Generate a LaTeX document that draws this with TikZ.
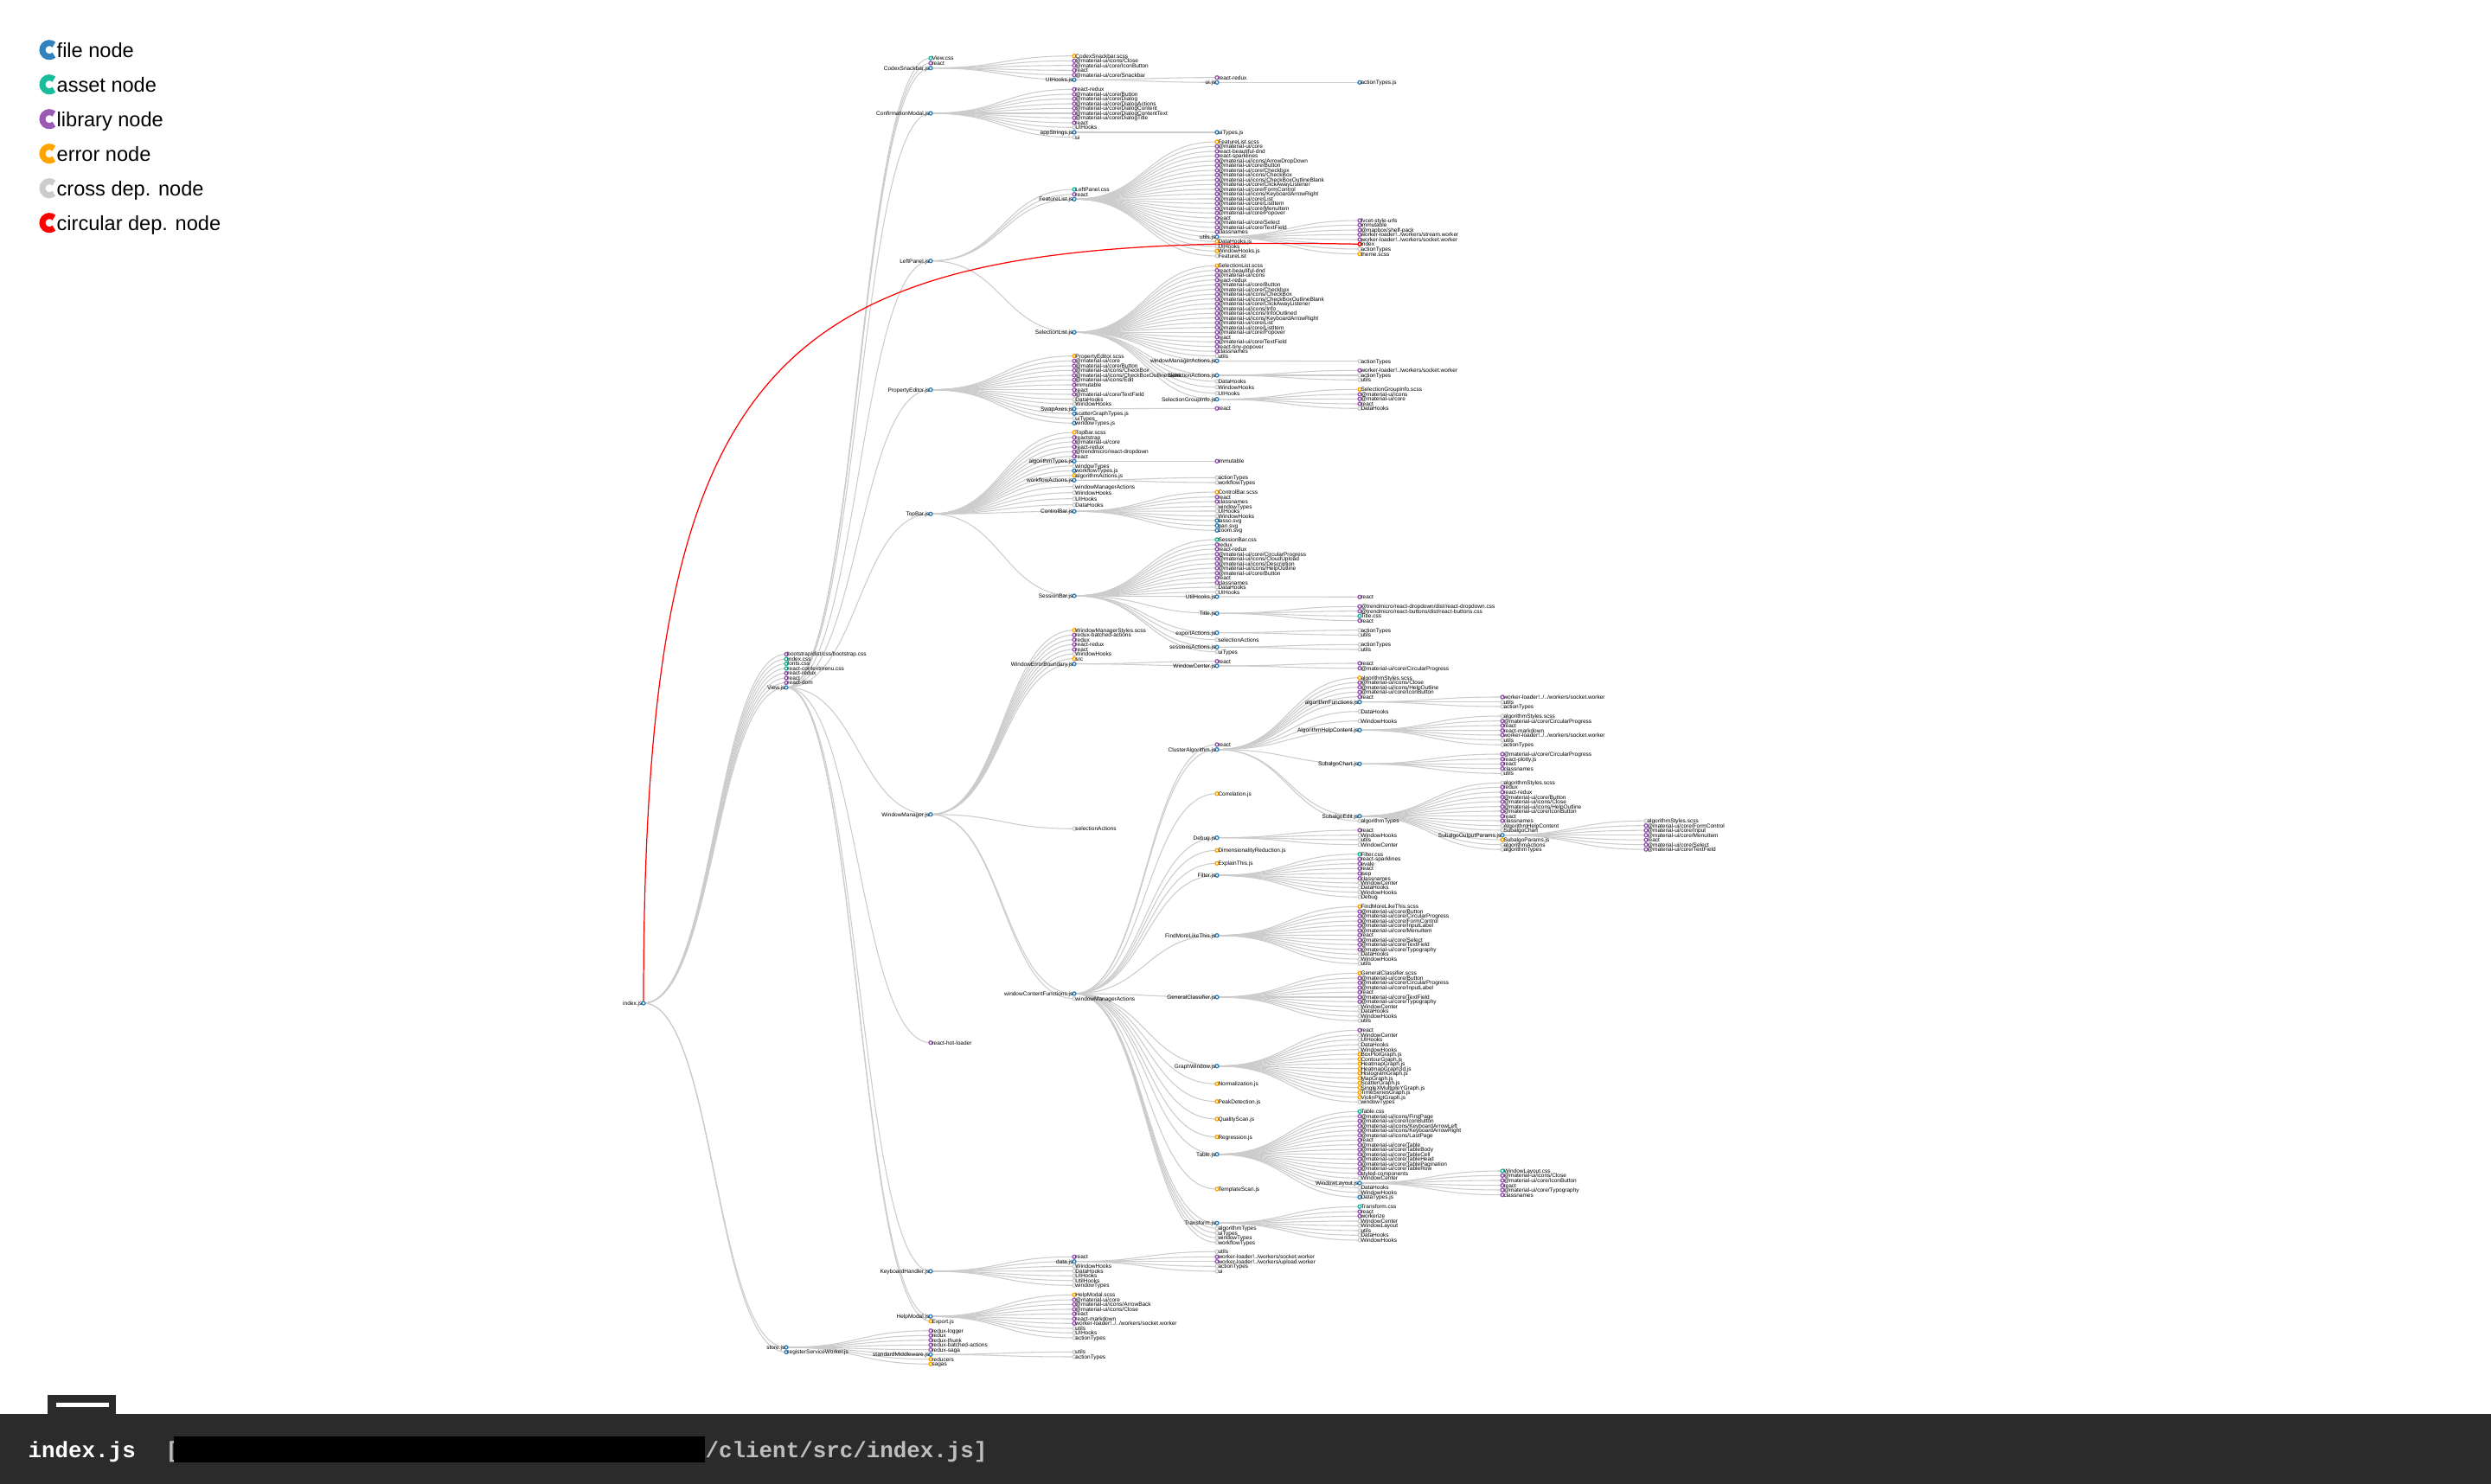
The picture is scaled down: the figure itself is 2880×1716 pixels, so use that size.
\documentclass[tikz,border=0pt]{standalone}
\usepackage{fontspec}
\setmainfont{Liberation Sans}
\setmonofont{Liberation Mono}
\usetikzlibrary{calc}

\definecolor{cfile}{RGB}{49,130,189}
\definecolor{casset}{RGB}{26,188,156}
\definecolor{clib}{RGB}{155,89,182}
\definecolor{cerr}{RGB}{255,165,0}
\definecolor{ccross}{RGB}{204,204,204}
\definecolor{ccirc}{RGB}{255,0,0}
\definecolor{linkgray}{RGB}{204,204,204}
\definecolor{barbg}{RGB}{43,43,43}
\definecolor{pathgray}{RGB}{190,190,190}

% pass 1: points and links (parent, column x, list of y/kind/name)
\newcommand{\depslinks}[3]{%
  \foreach \ny/\nk/\nt [count=\cnt] in {#3} {
    \coordinate (#1-\cnt) at (#2,\ny);
    \draw[link] (#1) to (#1-\cnt);
  }}
\newcommand{\hublinks}[5]{%
  \coordinate (#2) at (#3,#4);
  \draw[link] (#1) to (#2);}
% pass 2: circles and names on top
\newcommand{\depsnodes}[3]{%
  \foreach \ny/\nk/\nt [count=\cnt] in {#3} {
    \node[dot, draw=c\nk, lf=\nt] (#1-\cnt) at (#2,\ny) {};
  }}
\newcommand{\hubnodes}[5]{%
  \node[dot, draw=cfile, hb={#5}] (#2) at (#3,#4) {};}

% the dependency tree: \hub{parent}{name}{x}{y}{label}, \deps{parent}{x}{y/kind/label,...}
\newcommand{\deptree}{%
% --- LEVEL 1: index.js ---
\deps{index}{909}{756.5/lib/{bootstrap/dist/css/bootstrap.css}, 762/asset/{index.css},
  767.5/asset/{fonts.css}, 773/asset/{react-contextmenu.css}, 778.5/lib/{react-redux},
  784/lib/{react}, 789.5/lib/{react-dom}, 1563.5/file/{registerServiceWorker.js}}
\hub{index}{view}{909}{795}{View.js}
\hub{index}{store}{909}{1558}{store.js}
% --- LEVEL 2: View.js ---
\deps{view}{1076}{67.3/asset/{View.css}, 73/lib/{react}, 1205.7/lib/{react-hot-loader},
  1527.7/err/{Export.js}}
\hub{view}{codex}{1076}{78.7}{CodexSnackbar.js}
\hub{view}{confirm}{1076}{131}{ConfirmationModal.js}
\hub{view}{leftpanel}{1076}{301.7}{LeftPanel.js}
\hub{view}{propedit}{1076}{450.7}{PropertyEditor.js}
\hub{view}{topbar}{1076}{594.3}{TopBar.js}
\hub{view}{winmgr}{1076}{941.7}{WindowManager.js}
\hub{view}{keyboard}{1076}{1470}{KeyboardHandler.js}
\hub{view}{helpmodal}{1076}{1522.3}{HelpModal.js}
% --- CodexSnackbar.js ---
\deps{codex}{1242}{64.7/err/{CodexSnackbar.scss}, 70.3/lib/{@material-ui/icons/Close},
  75.7/lib/{@material-ui/core/IconButton}, 81.3/lib/{react}, 86.7/lib/{@material-ui/core/Snackbar}}
\hub{codex}{uihooks}{1242}{92.3}{UIHooks.js}
\deps{uihooks}{1407}{89.7/lib/{react-redux}}
\hub{uihooks}{uijs}{1407}{95.3}{ui.js}
\deps{uijs}{1572}{95.3/file/{actionTypes.js}}
% --- ConfirmationModal.js ---
\deps{confirm}{1242}{103.3/lib/{react-redux}, 109/lib/{@material-ui/core/Button},
  114.3/lib/{@material-ui/core/Dialog}, 120/lib/{@material-ui/core/DialogActions},
  125.3/lib/{@material-ui/core/DialogContent}, 131/lib/{@material-ui/core/DialogContentText},
  136.3/lib/{@material-ui/core/DialogTitle}, 142/lib/{react}, 147.3/cross/{UIHooks},
  158.7/cross/{ui}}
\hub{confirm}{appstr}{1242}{153}{appStrings.js}
\deps{appstr}{1407}{153/file/{uiTypes.js}}
% --- LeftPanel.js ---
\deps{leftpanel}{1242}{219/asset/{LeftPanel.css}, 224.7/lib/{react}}
\hub{leftpanel}{featlist}{1242}{230.3}{FeatureList.js}
\hub{leftpanel}{sellist}{1242}{384.3}{SelectionList.js}
\deps{featlist}{1407}{164/err/{FeatureList.scss}, 169.3/lib/{@material-ui/core},
  175/lib/{react-beautiful-dnd}, 180.3/lib/{react-sparklines}, 186/lib/{@material-ui/icons/ArrowDropDown},
  191.3/lib/{@material-ui/core/Button}, 197/lib/{@material-ui/core/Checkbox},
  202.3/lib/{@material-ui/icons/CheckBox}, 208/lib/{@material-ui/icons/CheckBoxOutlineBlank},
  213.3/lib/{@material-ui/core/ClickAwayListener}, 219/lib/{@material-ui/core/FormControl},
  224.3/lib/{@material-ui/icons/KeyboardArrowRight}, 230/lib/{@material-ui/core/List},
  235.3/lib/{@material-ui/core/ListItem}, 241/lib/{@material-ui/core/MenuItem},
  246.3/lib/{@material-ui/core/Popover}, 252/lib/{react}, 257.3/lib/{@material-ui/core/Select},
  263/lib/{@material-ui/core/TextField}, 268.3/lib/{classnames}, 279.3/err/{DataHooks.js},
  285/cross/{UIHooks}, 290.3/err/{WindowHooks.js}, 296/cross/{FeatureList}}
\hub{featlist}{utils}{1407}{274}{utils.js}
\deps{utils}{1572}{255/lib/{fvcet-style-urls}, 260.3/lib/{immutable}, 266/lib/{@mapbox/shelf-pack},
  271.3/lib/{worker-loader!../workers/stream.worker}, 277/lib/{worker-loader!../workers/socket.worker},
  282.3/circ/{index}, 288/cross/{actionTypes}, 293.7/err/{theme.scss}}
\deps{sellist}{1407}{307.3/err/{SelectionList.scss}, 312.7/lib/{react-beautiful-dnd},
  318.3/lib/{@material-ui/icons}, 323.7/lib/{react-redux}, 329.3/lib/{@material-ui/core/Button},
  334.7/lib/{@material-ui/core/Checkbox}, 340.3/lib/{@material-ui/icons/CheckBox},
  345.7/lib/{@material-ui/icons/CheckBoxOutlineBlank}, 351.3/lib/{@material-ui/core/ClickAwayListener},
  356.7/lib/{@material-ui/icons/Info}, 362.3/lib/{@material-ui/icons/InfoOutlined},
  367.7/lib/{@material-ui/icons/KeyboardArrowRight}, 373.3/lib/{@material-ui/core/List},
  378.7/lib/{@material-ui/core/ListItem}, 384.3/lib/{@material-ui/core/Popover}, 389.7/lib/{react},
  395.3/lib/{@material-ui/core/TextField}, 400.7/lib/{react-tiny-popover}, 406.3/lib/{classnames},
  411.7/cross/{utils}, 441/cross/{DataHooks}, 447.7/cross/{WindowHooks}, 454.7/cross/{UIHooks}}
\hub{sellist}{wmactions}{1407}{417.3}{windowManagerActions.js}
\hub{sellist}{selactions}{1407}{434}{selectionActions.js}
\hub{sellist}{selgroup}{1407}{461.7}{SelectionGroupInfo.js}
\deps{wmactions}{1572}{417.7/cross/{actionTypes}}
\deps{selactions}{1572}{428.3/lib/{worker-loader!../workers/socket.worker}, 434/cross/{actionTypes},
  439.3/cross/{utils}}
\deps{selgroup}{1572}{450.3/err/{SelectionGroupInfo.scss}, 456/lib/{@material-ui/icons},
  461.3/lib/{@material-ui/core}, 467/lib/{react}, 472.3/cross/{DataHooks}}
% --- PropertyEditor.js ---
\deps{propedit}{1242}{411.7/err/{PropertyEditor.scss}, 417.3/lib/{@material-ui/core},
  423/lib/{@material-ui/core/Button}, 428.3/lib/{@material-ui/icons/CheckBox},
  434/lib/{@material-ui/icons/CheckBoxOutlineBlank}, 439.3/lib/{@material-ui/icons/Edit},
  445/lib/{immutable}, 450.7/lib/{react}, 456/lib/{@material-ui/core/TextField},
  461.7/cross/{DataHooks}, 467/cross/{WindowHooks}, 478.3/file/{scatterGraphTypes.js},
  483.7/cross/{uiTypes}, 489.3/file/{windowTypes.js}}
\hub{propedit}{swapaxes}{1242}{472.7}{SwapAxes.js}
\deps{swapaxes}{1407}{472.3/lib/{react}}
% --- TopBar.js ---
\deps{topbar}{1242}{500/err/{TopBar.scss}, 505.7/lib/{reactstrap}, 511/lib/{@material-ui/core},
  516.7/lib/{react-redux}, 522.3/lib/{@trendmicro/react-dropdown}, 527.7/lib/{react},
  538.7/cross/{windowTypes}, 544.3/file/{workflowTypes.js}, 549.7/err/{algorithmActions.js},
  562.7/cross/{windowManagerActions}, 569.7/cross/{WindowHooks}, 576.7/cross/{UIHooks},
  583.7/cross/{DataHooks}}
\hub{topbar}{algotypes}{1242}{533.3}{algorithmTypes.js}
\hub{topbar}{wfactions}{1242}{555.3}{workflowActions.js}
\hub{topbar}{controlbar}{1242}{591.3}{ControlBar.js}
\hub{topbar}{sessionbar}{1242}{689}{SessionBar.js}
\deps{algotypes}{1407}{533.3/lib/{immutable}}
\deps{wfactions}{1407}{552.3/cross/{actionTypes}, 558/cross/{workflowTypes}}
\deps{controlbar}{1407}{569/err/{ControlBar.scss}, 574.7/lib/{react}, 580/lib/{classnames},
  585.7/cross/{windowTypes}, 591/cross/{UIHooks}, 596.7/cross/{WindowHooks}, 602/file/{lasso.svg},
  607.7/file/{pan.svg}, 613.3/file/{zoom.svg}}
\deps{sessionbar}{1407}{624/asset/{SessionBar.css}, 629.7/lib/{redux}, 635/lib/{react-redux},
  640.7/lib/{@material-ui/core/CircularProgress}, 646/lib/{@material-ui/icons/CloudUpload},
  651.7/lib/{@material-ui/icons/Description}, 657/lib/{@material-ui/icons/HelpOutline},
  662.7/lib/{@material-ui/core/Button}, 668/lib/{react}, 673.7/lib/{classnames},
  679/cross/{DataHooks}, 684.7/cross/{UIHooks}, 739.7/cross/{selectionActions}, 753.7/cross/{uiTypes}}
\hub{sessionbar}{utilhooks}{1407}{690}{UtilHooks.js}
\hub{sessionbar}{title}{1407}{709.3}{Title.js}
\hub{sessionbar}{expactions}{1407}{731.7}{exportActions.js}
\hub{sessionbar}{sessactions}{1407}{748.3}{sessionsActions.js}
\deps{utilhooks}{1572}{690.3/lib/{react}}
\deps{title}{1572}{701.3/lib/{@trendmicro/react-dropdown/dist/react-dropdown.css},
  706.7/lib/{@trendmicro/react-buttons/dist/react-buttons.css}, 712.3/asset/{Title.css},
  717.7/lib/{react}}
\deps{expactions}{1572}{728.7/cross/{actionTypes}, 734.3/cross/{utils}}
\deps{sessactions}{1572}{745.3/cross/{actionTypes}, 751/cross/{utils}}
% --- WindowManager.js ---
\deps{winmgr}{1242}{728.7/err/{WindowManagerStyles.scss}, 734.3/lib/{redux-batched-actions},
  739.7/lib/{redux}, 745.3/lib/{react-redux}, 751/lib/{react}, 756.3/cross/{WindowHooks},
  761.7/err/{src}, 958.3/cross/{selectionActions}, 1154.7/cross/{windowManagerActions}}
\hub{winmgr}{errbound}{1242}{767.7}{WindowErrorBoundary.js}
\hub{winmgr}{wcfuncs}{1242}{1149}{windowContentFunctions.js}
\deps{errbound}{1407}{764.7/lib/{react}}
\hub{errbound}{wincenter}{1407}{770}{WindowCenter.js}
\deps{wincenter}{1572}{767/lib/{react}, 772.7/lib/{@material-ui/core/CircularProgress}}
% --- windowContentFunctions.js ---
\deps{wcfuncs}{1407}{861/lib/{react}, 917.7/err/{Correlation.js}, 983.3/err/{DimensionalityReduction.js},
  998.3/err/{ExplainThis.js}, 1253.3/err/{Normalization.js}, 1273.7/err/{PeakDetection.js},
  1294/err/{QualityScan.js}, 1314.7/err/{Regression.js}, 1375/err/{TemplateScan.js},
  1420.3/cross/{algorithmTypes}, 1425.7/cross/{uiTypes}, 1431.3/cross/{windowTypes},
  1436.7/cross/{workflowTypes}}
\hub{wcfuncs}{cluster}{1407}{866.7}{ClusterAlgorithm.js}
\hub{wcfuncs}{debug}{1407}{968.7}{Debug.js}
\hub{wcfuncs}{filter}{1407}{1012.3}{Filter.js}
\hub{wcfuncs}{findmore}{1407}{1081.7}{FindMoreLikeThis.js}
\hub{wcfuncs}{genclass}{1407}{1153}{GeneralClassifier.js}
\hub{wcfuncs}{graphwin}{1407}{1232.7}{GraphWindow.js}
\hub{wcfuncs}{table}{1407}{1334.7}{Table.js}
\hub{wcfuncs}{transform}{1407}{1414.3}{Transform.js}
% --- ClusterAlgorithm.js ---
\deps{cluster}{1572}{783.7/err/{algorithmStyles.scss}, 789.3/lib/{@material-ui/icons/Close},
  794.7/lib/{@material-ui/icons/HelpOutline}, 800.3/lib/{@material-ui/core/IconButton},
  805.7/lib/{react}, 822.7/cross/{DataHooks}, 833.7/cross/{WindowHooks}, 949.3/cross/{algorithmTypes}}
\hub{cluster}{algofuncs}{1572}{811.7}{algorithmFunctions.js}
\hub{cluster}{helpcontent}{1572}{844.3}{AlgorithmHelpContent.js}
\hub{cluster}{subchart}{1572}{883.3}{SubalgoChart.js}
\hub{cluster}{subedit}{1572}{943.7}{SubalgoEdit.js}
\deps{algofuncs}{1737}{806/lib/{worker-loader!../../workers/socket.worker}, 811.7/cross/{utils},
  817/cross/{actionTypes}}
\deps{helpcontent}{1737}{828/cross/{algorithmStyles.scss}, 833.7/lib/{@material-ui/core/CircularProgress},
  839/lib/{react}, 844.7/lib/{react-markdown}, 850/lib/{worker-loader!../../workers/socket.worker},
  855.7/cross/{utils}, 861.3/cross/{actionTypes}}
\deps{subchart}{1737}{872/lib/{@material-ui/core/CircularProgress}, 877.7/lib/{react-plotly.js},
  883.3/lib/{react}, 888.7/lib/{classnames}, 894.3/cross/{utils}}
\deps{subedit}{1737}{905.3/cross/{algorithmStyles.scss}, 910.3/lib/{redux}, 916/lib/{react-redux},
  921.7/lib/{@material-ui/core/Button}, 927/lib/{@material-ui/icons/Close},
  932.7/lib/{@material-ui/icons/HelpOutline}, 938/lib/{@material-ui/core/IconButton},
  943.7/lib/{react}, 949/lib/{classnames}, 954.7/cross/{AlgorithmHelpContent},
  960/cross/{SubalgoChart}, 971/err/{SubalgoParams.js}, 976.7/cross/{algorithmActions},
  982.3/cross/{algorithmTypes}}
\hub{subedit}{outparams}{1737}{965.7}{SubalgoOutputParams.js}
\deps{outparams}{1903}{949.2/cross/{algorithmStyles.scss}, 954.7/lib/{@material-ui/core/FormControl},
  960.2/lib/{@material-ui/core/Input}, 965.7/lib/{@material-ui/core/MenuItem}, 971.2/lib/{react},
  976.7/lib/{@material-ui/core/Select}, 982.2/lib/{@material-ui/core/TextField}}
% --- Debug.js, Filter.js ---
\deps{debug}{1572}{960/lib/{react}, 965.7/cross/{WindowHooks}, 971/cross/{utils},
  976.7/cross/{WindowCenter}}
\deps{filter}{1572}{987.7/asset/{Filter.css}, 993.3/lib/{react-sparklines}, 998.7/lib/{evale},
  1004.3/lib/{react}, 1010/lib/{jsep}, 1015.7/lib/{classnames}, 1021/cross/{WindowCenter},
  1026.3/cross/{DataHooks}, 1031.7/cross/{WindowHooks}, 1037.3/cross/{Debug}}
% --- FindMoreLikeThis.js, GeneralClassifier.js ---
\deps{findmore}{1572}{1048.3/err/{FindMoreLikeThis.scss}, 1054/lib/{@material-ui/core/Button},
  1059.3/lib/{@material-ui/core/CircularProgress}, 1065/lib/{@material-ui/core/FormControl},
  1070.3/lib/{@material-ui/core/InputLabel}, 1076/lib/{@material-ui/core/MenuItem},
  1081.3/lib/{react}, 1087/lib/{@material-ui/core/Select}, 1092.3/lib/{@material-ui/core/TextField},
  1098/lib/{@material-ui/core/Typography}, 1103.3/cross/{DataHooks}, 1109/cross/{WindowHooks},
  1114.3/cross/{utils}}
\deps{genclass}{1572}{1125.3/err/{GeneralClassifier.scss}, 1131/lib/{@material-ui/core/Button},
  1136.3/lib/{@material-ui/core/CircularProgress}, 1142/lib/{@material-ui/core/InputLabel},
  1147.3/lib/{react}, 1153/lib/{@material-ui/core/TextField}, 1158.3/lib/{@material-ui/core/Typography},
  1164/cross/{WindowCenter}, 1169.3/cross/{DataHooks}, 1175/cross/{WindowHooks}, 1180.3/cross/{utils}}
% --- GraphWindow.js ---
\deps{graphwin}{1572}{1191.3/lib/{react}, 1197/cross/{WindowCenter}, 1202.3/cross/{UIHooks},
  1208/cross/{DataHooks}, 1213.7/cross/{WindowHooks}, 1219/err/{BoxPlotGraph.js},
  1224.7/err/{ContourGraph.js}, 1230/err/{HeatmapGraph.js}, 1235.7/err/{HeatmapGraph3d.js},
  1241/err/{HistogramGraph.js}, 1246.7/err/{MapGraph.js}, 1252.3/err/{ScatterGraph.js},
  1257.7/err/{SingleXMultipleYGraph.js}, 1263.3/err/{TimeSeriesGraph.js},
  1268.7/err/{ViolinPlotGraph.js}, 1274.3/cross/{windowTypes}}
% --- Table.js ---
\deps{table}{1572}{1285.3/asset/{Table.css}, 1290.7/lib/{@material-ui/icons/FirstPage},
  1296.3/lib/{@material-ui/core/IconButton}, 1301.7/lib/{@material-ui/icons/KeyboardArrowLeft},
  1307.3/lib/{@material-ui/icons/KeyboardArrowRight}, 1312.7/lib/{@material-ui/icons/LastPage},
  1318.3/lib/{react}, 1323.7/lib/{@material-ui/core/Table}, 1329.3/lib/{@material-ui/core/TableBody},
  1334.7/lib/{@material-ui/core/TableCell}, 1340.3/lib/{@material-ui/core/TableHead},
  1345.7/lib/{@material-ui/core/TablePagination}, 1351.3/lib/{@material-ui/core/TableRow},
  1356.7/lib/{styled-components}, 1362.3/cross/{WindowCenter}, 1373.3/cross/{DataHooks},
  1378.7/cross/{WindowHooks}, 1384.3/file/{DataTypes.js}}
\hub{table}{winlayout}{1572}{1368}{WindowLayout.js}
\deps{winlayout}{1737}{1354/asset/{WindowLayout.css}, 1359.3/lib/{@material-ui/icons/Close},
  1365/lib/{@material-ui/core/IconButton}, 1370.7/lib/{react}, 1376/lib/{@material-ui/core/Typography},
  1381.7/lib/{classnames}}
% --- Transform.js ---
\deps{transform}{1572}{1395.3/asset/{Transform.css}, 1401/lib/{react}, 1406.3/lib/{workerize},
  1412/cross/{WindowCenter}, 1417.3/cross/{WindowLayout}, 1423/cross/{utils},
  1428.3/cross/{DataHooks}, 1434/cross/{WindowHooks}}
% --- KeyboardHandler.js, HelpModal.js ---
\deps{keyboard}{1242}{1453.3/lib/{react}, 1464.3/cross/{WindowHooks}, 1469.7/cross/{DataHooks},
  1475.3/cross/{UIHooks}, 1480.7/cross/{UtilHooks}, 1486.3/cross/{windowTypes}}
\hub{keyboard}{datajs}{1242}{1458.7}{data.js}
\deps{datajs}{1407}{1447.3/cross/{utils}, 1453.3/lib/{worker-loader!../workers/socket.worker},
  1458.7/lib/{worker-loader!../workers/upload.worker}, 1464.3/cross/{actionTypes}, 1470/cross/{ui}}
\deps{helpmodal}{1242}{1497.3/err/{HelpModal.scss}, 1503/lib/{@material-ui/core},
  1508.3/lib/{@material-ui/icons/ArrowBack}, 1514/lib/{@material-ui/icons/Close}, 1519.3/lib/{react},
  1525/lib/{react-markdown}, 1530.3/lib/{worker-loader!../../workers/socket.worker},
  1536/cross/{utils}, 1541.3/cross/{UIHooks}, 1547/cross/{actionTypes}}
% --- store.js ---
\deps{store}{1076}{1538.7/lib/{redux-logger}, 1544.3/lib/{redux}, 1549.7/lib/{redux-thunk},
  1555.3/lib/{redux-batched-actions}, 1560.7/lib/{redux-saga}, 1571.7/err/{reducers},
  1577.3/err/{sagas}}
\hub{store}{stdmw}{1076}{1566.3}{standardMiddleware.js}
\deps{stdmw}{1242}{1563.3/cross/{utils}, 1569/cross/{actionTypes}}
}

\begin{document}
\begin{tikzpicture}[
  x=0.01cm, y=-0.01cm,
  dot/.style={circle, fill=white, line width=0.37pt, inner sep=0pt, minimum size=0.04cm},
  lbl/.style={font=\fontsize{1.85}{2.2}\selectfont, inner sep=0pt, outer sep=0pt,
    text height=1.33pt, text depth=0pt},
  lf/.style={label={[lbl, label distance=-0.33pt]east:#1}},
  hb/.style={label={[lbl, label distance=-0.27pt]west:#1}},
  link/.style={draw=linkgray, line width=0.3pt,
    to path={let \p1=(\tikztostart), \p2=(\tikztotarget) in
      .. controls ({0.5*\x1+0.5*\x2},\y1) and ({0.5*\x1+0.5*\x2},\y2) .. (\tikztotarget)}},
  circlink/.style={draw=ccirc, line width=0.35pt},
  legring/.style={line width=2pt},
  legtext/.style={anchor=base west, yshift=-2.4pt, inner sep=0pt, font=\fontsize{6.7}{8}\selectfont},
  bartext/.style={anchor=base west, yshift=-2.6pt, inner sep=0pt,
    font=\ttfamily\bfseries\fontsize{7.35}{8}\selectfont},
]
\useasboundingbox (0,0) rectangle (2880,1716);
\fill[white] (0,0) rectangle (2880,1716);

% --- Links first ---
\coordinate (index) at (744,1160);
\let\deps\depslinks \let\hub\hublinks
\deptree
% circular dependency back to index.js
\draw[circlink] (index) .. controls (744,380) and (900,270) .. (utils-6);

% --- Nodes on top ---
\node[dot, draw=cfile, hb=index.js] (index) at (744,1160) {};
\let\deps\depsnodes \let\hub\hubnodes
\deptree

% --- Legend ---
\foreach \nk/\nt [count=\cnt] in {file/file node, asset/asset node, lib/library node,
    err/error node, cross/cross dep. node, circ/circular dep. node} {
  \draw[c\nk, legring] (57,{17.7+40*\cnt}) ++(48:0.08cm)
    arc[start angle=48, end angle=312, radius=0.08cm];
  \node[legtext] (leg-\nk) at (65,{17.7+40*\cnt}) {\nt};
}

% --- Bottom bar ---
\fill[barbg] (0,1635) rectangle (2880,1716);
\fill[barbg] (55,1613) rectangle (134,1636);
\fill[white] (65,1622.5) rectangle (126,1627.5);
\node[bartext, text=white] (barfile) at (32,1676) {index.js};
\node[bartext, text=pathgray] (barbracket) at (191,1676) {[};
\fill[black] (201,1661) rectangle (815,1691);
\node[bartext, text=pathgray] (barpath) at (815,1676) {/client/src/index.js]};
\end{tikzpicture}
\end{document}
